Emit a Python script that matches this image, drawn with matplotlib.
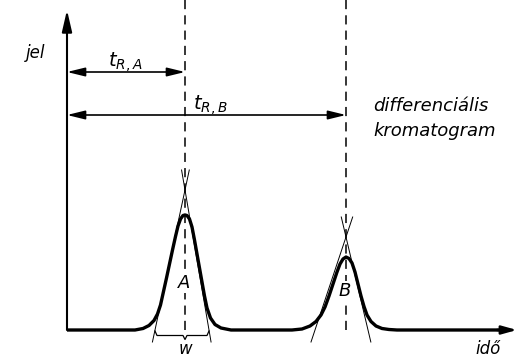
#!/usr/bin/env python3
"""Differenciális kromatogram: két csúcs (A, B), retenciós idők és csúcsszélesség."""

import matplotlib
matplotlib.use("Agg")
import matplotlib.pyplot as plt
import numpy as np

# ----- adatok (idő, jel) -----
peak_a_t = [6.8, 7.6, 8.2, 8.7, 9.05, 9.35, 9.65, 9.95, 10.25, 10.55, 10.85, 11.1, 11.35, 11.6, 11.8,
            12.0, 12.25, 12.5, 12.75, 13.0, 13.25, 13.5, 13.75, 14.0, 14.35, 14.8, 15.4, 16.4]
peak_a_s = [0.0, 0.15, 0.45, 0.95, 1.6, 2.5, 3.85, 5.2, 6.6, 8.0, 9.35, 10.4, 11.1, 11.45, 11.5,
            11.45, 11.1, 10.3, 9.0, 7.6, 6.2, 4.8, 3.4, 2.2, 1.2, 0.55, 0.2, 0.0]
peak_b_t = [22.5, 23.5, 24.3, 24.9, 25.4, 25.8, 26.2, 26.6, 27.0, 27.3, 27.6, 27.9,
            28.2, 28.5, 28.8, 29.1, 29.4, 29.7, 30.0, 30.4, 30.9, 31.5, 32.2, 33.0]
peak_b_s = [0.0, 0.1, 0.4, 0.85, 1.5, 2.3, 3.4, 4.6, 5.8, 6.6, 7.1, 7.3,
            7.15, 6.7, 5.8, 4.6, 3.4, 2.35, 1.5, 0.85, 0.4, 0.15, 0.05, 0.0]

t_end = 44.0                      # az időtengely vége
retention = [11.8, 27.9]          # t_R,A, t_R,B
tangent_base_left = [8.8, 24.8]   # érintők metszéspontja az alapvonallal
tangent_base_right = [14.2, 30.1]
tangent_apex = [14.0, 9.3]        # érintők metszéspontjának magassága
peak_names = ["A", "B"]


def main() -> int:
    fig = plt.figure(figsize=(5.18, 3.58), dpi=100)
    ax = fig.add_axes([0, 0, 1, 1])
    ax.set_xlim(-6.7, 45.1)
    ax.set_ylim(-2.8, 33.0)
    ax.axis("off")

    # kromatogram: alapvonal + két csúcs
    t = np.concatenate([[0.0], peak_a_t, peak_b_t, [t_end]])
    s = np.concatenate([[0.0], peak_a_s, peak_b_s, [0.0]])
    ax.plot(t, s, color="k", lw=2.4, solid_joinstyle="round", solid_capstyle="butt")
    ax.annotate("", xy=(t_end + 1.0, 0), xytext=(t_end - 1.0, 0),
                arrowprops=dict(arrowstyle="-|>,head_length=0.9,head_width=0.25",
                                lw=1.8, color="k", shrinkA=0, shrinkB=0),
                annotation_clip=False)
    # függőleges tengely
    ax.annotate("", xy=(0, 32.0), xytext=(0, 0),
                arrowprops=dict(arrowstyle="-|>,head_length=1.3,head_width=0.3",
                                lw=1.5, color="k", shrinkA=0, shrinkB=0))

    # szaggatott vonalak a retenciós időknél
    for tr in retention:
        ax.plot([tr, tr], [0, 33.0], color="k", lw=1.1, ls=(0, (6, 4)))

    # érintők az inflexiós pontokban
    for tr, bl, br, h in zip(retention, tangent_base_left, tangent_base_right, tangent_apex):
        for b in (bl, br):
            dx = (tr - b) / h
            ax.plot([b - 1.2 * dx, tr + 2.0 * dx], [-1.2, h + 2.0], color="k", lw=0.7)

    # csúcsszélesség (w) kapcsos zárójel
    bl, br, tr = tangent_base_left[0], tangent_base_right[0], retention[0]
    ax.plot([bl, bl + 0.2, tr - 0.2, tr, tr + 0.2, br - 0.2, br],
            [-0.1, -0.55, -0.55, -0.95, -0.55, -0.55, -0.1], color="k", lw=0.9)
    ax.text(tr, -2.75, "w", fontsize=12, style="italic", ha="center", va="bottom")

    # retenciós idő nyilak
    arrow = dict(arrowstyle="<|-|>,head_length=0.9,head_width=0.22", lw=1.2,
                 color="k", shrinkA=0, shrinkB=0, mutation_scale=12)
    ax.annotate("", xy=(retention[0], 25.8), xytext=(0, 25.8), arrowprops=arrow)
    ax.annotate("", xy=(retention[1], 21.5), xytext=(0, 21.5), arrowprops=arrow)
    ax.text(5.8, 26.8, r"$t_{R,A}$", fontsize=14, ha="center", va="center")
    ax.text(14.3, 22.5, r"$t_{R,B}$", fontsize=14, ha="center", va="center")

    for tr, name, y in zip(retention, peak_names, [4.7, 3.9]):
        ax.text(tr - 0.1, y, name, fontsize=13, style="italic", ha="center", va="center",
                bbox=dict(boxstyle="square,pad=0.05", fc="white", ec="none"))

    ax.text(-3.1, 27.7, "jel", fontsize=12, style="italic", ha="center", va="center")
    ax.text(42.1, -1.9, "idő", fontsize=12, style="italic", ha="center", va="center")
    ax.text(30.6, 22.4, "differenciális", fontsize=13, style="italic", ha="left", va="center")
    ax.text(30.6, 19.9, "kromatogram", fontsize=13, style="italic", ha="left", va="center")

    fig.savefig("out.png", dpi=100)
    plt.close(fig)
    return 0


if __name__ == "__main__":
    raise SystemExit(main())
